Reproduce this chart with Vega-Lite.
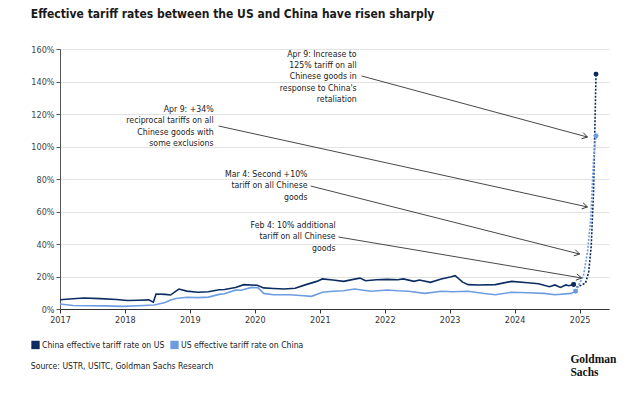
{
  "$schema": "https://vega.github.io/schema/vega-lite/v6.json",
  "width": 549,
  "height": 260,
  "padding": {"left": 30, "top": 8, "right": 20, "bottom": 5},
  "background": "white",
  "title": {
    "text": "Effective tariff rates between the US and China have risen sharply",
    "anchor": "start",
    "frame": "bounds",
    "font": "DejaVu Sans Condensed, DejaVu Sans, sans-serif",
    "fontSize": 12,
    "fontWeight": "bold",
    "color": "#1a1a1a",
    "offset": 24
  },
  "config": {
    "font": "DejaVu Sans Condensed, DejaVu Sans, sans-serif",
    "view": {"stroke": null},
    "axisY": {
      "grid": true, "gridColor": "#e2e2e2", "gridWidth": 1,
      "domainColor": "#555", "tickColor": "#555", "tickSize": 4,
      "labelFontSize": 9, "labelColor": "#444", "labelPadding": 2, "labelOverlap": false
    },
    "axisX": {
      "grid": false, "domainColor": "#333", "tickColor": "#333", "tickSize": 4,
      "labelFontSize": 9, "labelColor": "#333", "labelPadding": 2, "labelFlush": false, "labelOverlap": false
    }
  },
  "datasets": {
    "series": [
      {"d": "2017-01-01", "s": "China effective tariff rate on US", "k": "a", "v": 5.7},
      {"d": "2017-03-15", "s": "China effective tariff rate on US", "k": "a", "v": 6.3},
      {"d": "2017-05-15", "s": "China effective tariff rate on US", "k": "a", "v": 6.8},
      {"d": "2017-08-15", "s": "China effective tariff rate on US", "k": "a", "v": 6.4},
      {"d": "2017-11-15", "s": "China effective tariff rate on US", "k": "a", "v": 5.8},
      {"d": "2018-01-15", "s": "China effective tariff rate on US", "k": "a", "v": 5.2},
      {"d": "2018-03-15", "s": "China effective tariff rate on US", "k": "a", "v": 5.4},
      {"d": "2018-05-15", "s": "China effective tariff rate on US", "k": "a", "v": 5.6},
      {"d": "2018-06-10", "s": "China effective tariff rate on US", "k": "a", "v": 4.2},
      {"d": "2018-06-25", "s": "China effective tariff rate on US", "k": "a", "v": 9.2},
      {"d": "2018-08-15", "s": "China effective tariff rate on US", "k": "a", "v": 9.0},
      {"d": "2018-09-15", "s": "China effective tariff rate on US", "k": "a", "v": 8.6},
      {"d": "2018-10-15", "s": "China effective tariff rate on US", "k": "a", "v": 11.0},
      {"d": "2018-11-01", "s": "China effective tariff rate on US", "k": "a", "v": 12.3},
      {"d": "2018-12-15", "s": "China effective tariff rate on US", "k": "a", "v": 11.0},
      {"d": "2019-02-15", "s": "China effective tariff rate on US", "k": "a", "v": 10.3},
      {"d": "2019-04-15", "s": "China effective tariff rate on US", "k": "a", "v": 10.6},
      {"d": "2019-06-15", "s": "China effective tariff rate on US", "k": "a", "v": 11.8},
      {"d": "2019-07-15", "s": "China effective tariff rate on US", "k": "a", "v": 12.0},
      {"d": "2019-09-15", "s": "China effective tariff rate on US", "k": "a", "v": 13.2},
      {"d": "2019-11-01", "s": "China effective tariff rate on US", "k": "a", "v": 15.0},
      {"d": "2020-01-15", "s": "China effective tariff rate on US", "k": "a", "v": 14.6},
      {"d": "2020-02-20", "s": "China effective tariff rate on US", "k": "a", "v": 13.0},
      {"d": "2020-04-15", "s": "China effective tariff rate on US", "k": "a", "v": 12.6},
      {"d": "2020-06-15", "s": "China effective tariff rate on US", "k": "a", "v": 12.3},
      {"d": "2020-08-15", "s": "China effective tariff rate on US", "k": "a", "v": 12.8},
      {"d": "2020-10-15", "s": "China effective tariff rate on US", "k": "a", "v": 15.0},
      {"d": "2020-12-15", "s": "China effective tariff rate on US", "k": "a", "v": 17.0},
      {"d": "2021-01-15", "s": "China effective tariff rate on US", "k": "a", "v": 18.5},
      {"d": "2021-03-15", "s": "China effective tariff rate on US", "k": "a", "v": 17.8},
      {"d": "2021-05-15", "s": "China effective tariff rate on US", "k": "a", "v": 17.0},
      {"d": "2021-07-15", "s": "China effective tariff rate on US", "k": "a", "v": 18.4},
      {"d": "2021-08-15", "s": "China effective tariff rate on US", "k": "a", "v": 19.0},
      {"d": "2021-09-15", "s": "China effective tariff rate on US", "k": "a", "v": 17.4},
      {"d": "2021-11-15", "s": "China effective tariff rate on US", "k": "a", "v": 18.0},
      {"d": "2022-01-15", "s": "China effective tariff rate on US", "k": "a", "v": 18.2},
      {"d": "2022-03-15", "s": "China effective tariff rate on US", "k": "a", "v": 18.0},
      {"d": "2022-04-15", "s": "China effective tariff rate on US", "k": "a", "v": 18.5},
      {"d": "2022-06-15", "s": "China effective tariff rate on US", "k": "a", "v": 17.0},
      {"d": "2022-07-15", "s": "China effective tariff rate on US", "k": "a", "v": 17.8},
      {"d": "2022-09-15", "s": "China effective tariff rate on US", "k": "a", "v": 16.4},
      {"d": "2022-11-15", "s": "China effective tariff rate on US", "k": "a", "v": 18.5},
      {"d": "2023-01-10", "s": "China effective tariff rate on US", "k": "a", "v": 19.8},
      {"d": "2023-02-01", "s": "China effective tariff rate on US", "k": "a", "v": 20.5},
      {"d": "2023-03-15", "s": "China effective tariff rate on US", "k": "a", "v": 16.5},
      {"d": "2023-04-15", "s": "China effective tariff rate on US", "k": "a", "v": 15.0},
      {"d": "2023-06-15", "s": "China effective tariff rate on US", "k": "a", "v": 14.8},
      {"d": "2023-09-15", "s": "China effective tariff rate on US", "k": "a", "v": 15.0},
      {"d": "2023-12-15", "s": "China effective tariff rate on US", "k": "a", "v": 17.0},
      {"d": "2024-03-15", "s": "China effective tariff rate on US", "k": "a", "v": 16.2},
      {"d": "2024-05-15", "s": "China effective tariff rate on US", "k": "a", "v": 15.5},
      {"d": "2024-07-15", "s": "China effective tariff rate on US", "k": "a", "v": 13.7},
      {"d": "2024-08-15", "s": "China effective tariff rate on US", "k": "a", "v": 14.8},
      {"d": "2024-09-15", "s": "China effective tariff rate on US", "k": "a", "v": 13.3},
      {"d": "2024-10-15", "s": "China effective tariff rate on US", "k": "a", "v": 14.8},
      {"d": "2024-11-01", "s": "China effective tariff rate on US", "k": "a", "v": 14.3},
      {"d": "2024-11-28", "s": "China effective tariff rate on US", "k": "a", "v": 15.1},
      {"d": "2017-01-01", "s": "US effective tariff rate on China", "k": "a", "v": 3.1},
      {"d": "2017-03-15", "s": "US effective tariff rate on China", "k": "a", "v": 2.2},
      {"d": "2017-06-15", "s": "US effective tariff rate on China", "k": "a", "v": 2.0},
      {"d": "2017-09-15", "s": "US effective tariff rate on China", "k": "a", "v": 1.9},
      {"d": "2017-12-15", "s": "US effective tariff rate on China", "k": "a", "v": 1.6},
      {"d": "2018-03-15", "s": "US effective tariff rate on China", "k": "a", "v": 2.0},
      {"d": "2018-06-15", "s": "US effective tariff rate on China", "k": "a", "v": 2.5},
      {"d": "2018-08-15", "s": "US effective tariff rate on China", "k": "a", "v": 4.0},
      {"d": "2018-09-15", "s": "US effective tariff rate on China", "k": "a", "v": 5.5},
      {"d": "2018-10-15", "s": "US effective tariff rate on China", "k": "a", "v": 6.5},
      {"d": "2018-12-15", "s": "US effective tariff rate on China", "k": "a", "v": 7.2},
      {"d": "2019-02-15", "s": "US effective tariff rate on China", "k": "a", "v": 7.0},
      {"d": "2019-04-15", "s": "US effective tariff rate on China", "k": "a", "v": 7.3},
      {"d": "2019-06-15", "s": "US effective tariff rate on China", "k": "a", "v": 9.0},
      {"d": "2019-07-15", "s": "US effective tariff rate on China", "k": "a", "v": 9.4},
      {"d": "2019-09-15", "s": "US effective tariff rate on China", "k": "a", "v": 11.6},
      {"d": "2019-10-15", "s": "US effective tariff rate on China", "k": "a", "v": 11.5},
      {"d": "2019-12-15", "s": "US effective tariff rate on China", "k": "a", "v": 13.3},
      {"d": "2020-01-20", "s": "US effective tariff rate on China", "k": "a", "v": 13.0},
      {"d": "2020-02-20", "s": "US effective tariff rate on China", "k": "a", "v": 9.6},
      {"d": "2020-04-15", "s": "US effective tariff rate on China", "k": "a", "v": 8.8},
      {"d": "2020-07-15", "s": "US effective tariff rate on China", "k": "a", "v": 8.8},
      {"d": "2020-09-15", "s": "US effective tariff rate on China", "k": "a", "v": 8.3},
      {"d": "2020-11-15", "s": "US effective tariff rate on China", "k": "a", "v": 7.8},
      {"d": "2021-01-15", "s": "US effective tariff rate on China", "k": "a", "v": 10.3},
      {"d": "2021-03-15", "s": "US effective tariff rate on China", "k": "a", "v": 10.9},
      {"d": "2021-05-15", "s": "US effective tariff rate on China", "k": "a", "v": 11.2},
      {"d": "2021-07-15", "s": "US effective tariff rate on China", "k": "a", "v": 12.3},
      {"d": "2021-10-15", "s": "US effective tariff rate on China", "k": "a", "v": 10.9},
      {"d": "2022-01-15", "s": "US effective tariff rate on China", "k": "a", "v": 11.7},
      {"d": "2022-03-15", "s": "US effective tariff rate on China", "k": "a", "v": 11.2},
      {"d": "2022-05-15", "s": "US effective tariff rate on China", "k": "a", "v": 10.9},
      {"d": "2022-08-15", "s": "US effective tariff rate on China", "k": "a", "v": 9.6},
      {"d": "2022-11-15", "s": "US effective tariff rate on China", "k": "a", "v": 10.9},
      {"d": "2023-01-15", "s": "US effective tariff rate on China", "k": "a", "v": 10.6},
      {"d": "2023-04-15", "s": "US effective tariff rate on China", "k": "a", "v": 10.9},
      {"d": "2023-07-15", "s": "US effective tariff rate on China", "k": "a", "v": 9.5},
      {"d": "2023-09-15", "s": "US effective tariff rate on China", "k": "a", "v": 8.8},
      {"d": "2023-12-15", "s": "US effective tariff rate on China", "k": "a", "v": 10.3},
      {"d": "2024-03-15", "s": "US effective tariff rate on China", "k": "a", "v": 10.0},
      {"d": "2024-06-15", "s": "US effective tariff rate on China", "k": "a", "v": 9.6},
      {"d": "2024-08-15", "s": "US effective tariff rate on China", "k": "a", "v": 8.8},
      {"d": "2024-11-15", "s": "US effective tariff rate on China", "k": "a", "v": 9.6},
      {"d": "2024-12-09", "s": "US effective tariff rate on China", "k": "a", "v": 11.0},
      {"d": "2024-11-28", "s": "China effective tariff rate on US", "k": "p", "v": 15.1},
      {"d": "2024-12-20", "s": "China effective tariff rate on US", "k": "p", "v": 13.5},
      {"d": "2025-02-03", "s": "China effective tariff rate on US", "k": "p", "v": 16.0},
      {"d": "2025-02-21", "s": "China effective tariff rate on US", "k": "p", "v": 22.8},
      {"d": "2025-03-07", "s": "China effective tariff rate on US", "k": "p", "v": 38.8},
      {"d": "2025-03-20", "s": "China effective tariff rate on US", "k": "p", "v": 72.0},
      {"d": "2025-04-03", "s": "China effective tariff rate on US", "k": "p", "v": 144.6},
      {"d": "2024-12-09", "s": "US effective tariff rate on China", "k": "p", "v": 11.0},
      {"d": "2025-01-22", "s": "US effective tariff rate on China", "k": "p", "v": 20.3},
      {"d": "2025-02-14", "s": "US effective tariff rate on China", "k": "p", "v": 35.0},
      {"d": "2025-03-04", "s": "US effective tariff rate on China", "k": "p", "v": 55.0},
      {"d": "2025-03-20", "s": "US effective tariff rate on China", "k": "p", "v": 92.0},
      {"d": "2025-04-03", "s": "US effective tariff rate on China", "k": "p", "v": 106.6}
    ],
    "markers": [
      {"d": "2024-11-28", "s": "China effective tariff rate on US", "v": 15.1},
      {"d": "2025-04-03", "s": "China effective tariff rate on US", "v": 144.6},
      {"d": "2024-12-09", "s": "US effective tariff rate on China", "v": 11.0},
      {"d": "2025-04-03", "s": "US effective tariff rate on China", "v": 106.6}
    ],
    "notes": [
      {"label": "Apr 9: Increase to\n125% tariff on all\nChinese goods in\nresponse to China's\nretaliation", "tx": "2021-07-27", "ty": 159.5, "x1": "2021-08-24", "y1": 143.4, "x2": "2025-02-14", "y2": 105.8},
      {"label": "Apr 9: +34%\nreciprocal tariffs on all\nChinese goods with\nsome exclusions", "tx": "2019-05-15", "ty": 125.5, "x1": "2019-06-12", "y1": 112.6, "x2": "2025-02-14", "y2": 62.8},
      {"label": "Mar 4: Second +10%\ntariff on all Chinese\ngoods", "tx": "2020-10-24", "ty": 85.5, "x1": "2020-11-10", "y1": 75.7, "x2": "2025-01-01", "y2": 33.8},
      {"label": "Feb 4: 10% additional\ntariff on all Chinese\ngoods", "tx": "2021-03-31", "ty": 54.2, "x1": "2021-04-16", "y1": 44.3, "x2": "2025-01-12", "y2": 19.1}
    ]
  },
  "layer": [
    {
      "data": {"name": "markers"},
      "mark": {"type": "point", "filled": true, "opacity": 1, "size": 22},
      "encoding": {
        "x": {"field": "d", "type": "temporal", "title": null,
              "scale": {"domain": ["2017-01-01", "2025-06-15"]},
              "axis": {"title": null, "format": "%Y", "tickCount": {"interval": "year", "step": 1}}},
        "y": {"field": "v", "type": "quantitative", "title": null,
              "scale": {"domain": [0, 160], "nice": false},
              "axis": {"title": null, "values": [0, 20, 40, 60, 80, 100, 120, 140, 160], "labelExpr": "datum.value + '%'"}},
        "color": {"field": "s", "type": "nominal",
                  "scale": {"domain": ["China effective tariff rate on US", "US effective tariff rate on China"], "range": ["#0c2d62", "#6d9de0"]},
                  "legend": {"orient": "none", "legendX": -29, "legendY": 291, "direction": "horizontal", "title": null,
                             "symbolType": "square", "symbolSize": 70, "symbolStrokeWidth": 0, "symbolOpacity": 1,
                             "labelFontSize": 8.6, "labelColor": "#222", "columnPadding": 5, "labelOffset": 2}}
      }
    },
    {
      "data": {"name": "series"},
      "transform": [{"filter": "datum.k === 'a'"}],
      "mark": {"type": "line", "strokeWidth": 1.6},
      "encoding": {
        "x": {"field": "d", "type": "temporal", "title": null, "axis": {"title": null, "format": "%Y", "tickCount": {"interval": "year", "step": 1}}},
        "y": {"field": "v", "type": "quantitative", "title": null, "axis": {"title": null, "values": [0, 20, 40, 60, 80, 100, 120, 140, 160], "labelExpr": "datum.value + '%'"}},
        "color": {"field": "s", "type": "nominal"}
      }
    },
    {
      "data": {"name": "series"},
      "transform": [{"filter": "datum.k === 'p'"}],
      "mark": {"type": "line", "strokeWidth": 1.6, "strokeDash": [2, 1.5]},
      "encoding": {
        "x": {"field": "d", "type": "temporal", "title": null, "axis": {"title": null, "format": "%Y", "tickCount": {"interval": "year", "step": 1}}},
        "y": {"field": "v", "type": "quantitative", "title": null, "axis": {"title": null, "values": [0, 20, 40, 60, 80, 100, 120, 140, 160], "labelExpr": "datum.value + '%'"}},
        "color": {"field": "s", "type": "nominal"}
      }
    },
    {
      "data": {"name": "markers"},
      "mark": {"type": "point", "filled": true, "opacity": 1, "size": 22},
      "encoding": {
        "x": {"field": "d", "type": "temporal", "title": null, "axis": {"title": null, "format": "%Y", "tickCount": {"interval": "year", "step": 1}}},
        "y": {"field": "v", "type": "quantitative", "title": null, "axis": {"title": null, "values": [0, 20, 40, 60, 80, 100, 120, 140, 160], "labelExpr": "datum.value + '%'"}},
        "color": {"field": "s", "type": "nominal"}
      }
    },
    {
      "data": {"name": "notes"},
      "mark": {"type": "rule", "color": "#333", "strokeWidth": 0.9},
      "encoding": {
        "x": {"field": "x1", "type": "temporal", "title": null, "axis": {"title": null, "format": "%Y", "tickCount": {"interval": "year", "step": 1}}},
        "y": {"field": "y1", "type": "quantitative", "title": null, "axis": {"title": null, "values": [0, 20, 40, 60, 80, 100, 120, 140, 160], "labelExpr": "datum.value + '%'"}},
        "x2": {"field": "x2"},
        "y2": {"field": "y2"}
      }
    },
    {
      "data": {"name": "notes"},
      "transform": [
        {"calculate": "atan2((datum.y1 - datum.y2) * 1.625, (toDate(datum.x2) - toDate(datum.x1)) / 31557600000 * 65) * 180 / PI", "as": "ang"}
      ],
      "mark": {"type": "point", "shape": "M -1 -0.6 L 0 0 L -1 0.6", "filled": false, "stroke": "#333", "strokeWidth": 0.9, "size": 110, "opacity": 1},
      "encoding": {
        "x": {"field": "x2", "type": "temporal", "title": null, "axis": {"title": null, "format": "%Y", "tickCount": {"interval": "year", "step": 1}}},
        "y": {"field": "y2", "type": "quantitative", "title": null, "axis": {"title": null, "values": [0, 20, 40, 60, 80, 100, 120, 140, 160], "labelExpr": "datum.value + '%'"}},
        "angle": {"field": "ang", "type": "quantitative", "scale": null}
      }
    },
    {
      "data": {"name": "notes"},
      "mark": {"type": "text", "align": "right", "baseline": "top", "lineBreak": "\n", "lineHeight": 11.3, "fontSize": 8.7, "color": "#222"},
      "encoding": {
        "x": {"field": "tx", "type": "temporal", "title": null, "axis": {"title": null, "format": "%Y", "tickCount": {"interval": "year", "step": 1}}},
        "y": {"field": "ty", "type": "quantitative", "title": null, "axis": {"title": null, "values": [0, 20, 40, 60, 80, 100, 120, 140, 160], "labelExpr": "datum.value + '%'"}},
        "text": {"field": "label"}
      }
    },
    {
      "data": {"values": [{"t": "Source: USTR, USITC, Goldman Sachs Research", "x": "2016-07-21", "y": -35.1}]},
      "mark": {"type": "text", "align": "left", "baseline": "middle", "fontSize": 8.6, "color": "#222"},
      "encoding": {
        "x": {"field": "x", "type": "temporal", "title": null, "axis": {"title": null, "format": "%Y", "tickCount": {"interval": "year", "step": 1}}},
        "y": {"field": "y", "type": "quantitative", "title": null, "axis": {"title": null, "values": [0, 20, 40, 60, 80, 100, 120, 140, 160], "labelExpr": "datum.value + '%'"}},
        "text": {"field": "t"}
      }
    },
    {
      "data": {"values": [{"t": "Goldman\nSachs", "x": "2024-11-10", "y": -27.5}]},
      "mark": {"type": "text", "align": "left", "baseline": "top", "lineBreak": "\n", "lineHeight": 13, "fontSize": 11.5, "fontWeight": "bold", "font": "Liberation Serif, DejaVu Serif Condensed, serif", "color": "#111"},
      "encoding": {
        "x": {"field": "x", "type": "temporal", "title": null, "axis": {"title": null, "format": "%Y", "tickCount": {"interval": "year", "step": 1}}},
        "y": {"field": "y", "type": "quantitative", "title": null, "axis": {"title": null, "values": [0, 20, 40, 60, 80, 100, 120, 140, 160], "labelExpr": "datum.value + '%'"}},
        "text": {"field": "t"}
      }
    }
  ]
}
